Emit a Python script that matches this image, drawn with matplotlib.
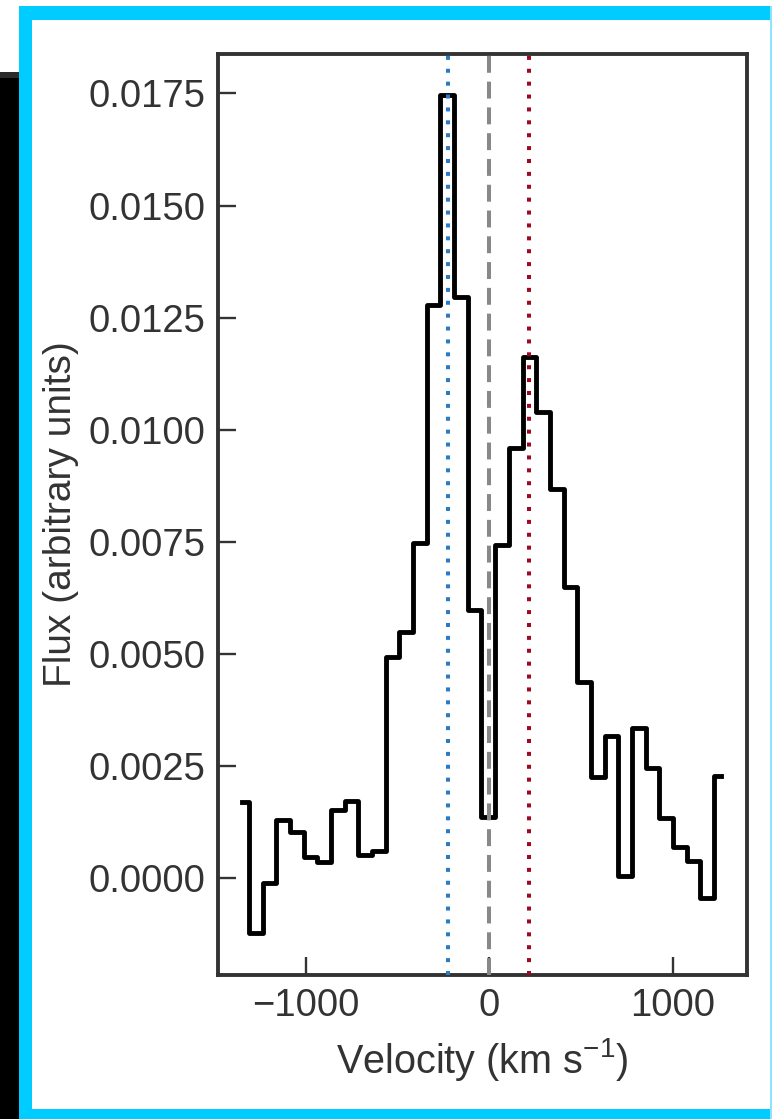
import numpy as np
import matplotlib
matplotlib.use('Agg')
import matplotlib.pyplot as plt
from matplotlib.patches import Rectangle

plt.rcParams['font.family'] = ['Liberation Sans', 'DejaVu Sans']
plt.rcParams['mathtext.fontset'] = 'custom'
plt.rcParams['mathtext.rm'] = 'Liberation Sans'
plt.rcParams['mathtext.it'] = 'Liberation Sans:italic'

# channel centres (km/s) and flux per channel
velocity = np.array([-1351, -1276, -1202, -1127, -1052, -978, -903, -828, -753, -679,
                     -604, -529, -455, -380, -305, -231, -156, -81, -6, 68,
                     143, 218, 292, 367, 442, 517, 591, 666, 741, 815,
                     890, 965, 1039, 1114, 1189, 1263])
flux = np.array([0.00170, -0.00123, -0.00010, 0.00130, 0.00103, 0.00047, 0.00036, 0.00152, 0.00172, 0.00051,
                 0.00060, 0.00493, 0.00550, 0.00748, 0.01279, 0.01746, 0.01297, 0.00598, 0.00137, 0.00743,
                 0.00960, 0.01163, 0.01040, 0.00868, 0.00650, 0.00438, 0.00226, 0.00317, 0.00004, 0.00335,
                 0.00245, 0.00134, 0.00069, 0.00038, -0.00045, 0.00228])

v_blue = -229
v_sys = 0
v_red = 218

yticks = [0.0, 0.0025, 0.005, 0.0075, 0.01, 0.0125, 0.015, 0.0175]
xticks = [-1000, 0, 1000]

W, H = 772, 1119
fig = plt.figure(figsize=(W / 100, H / 100), dpi=100)
fig.patch.set_facecolor('white')

# dark strip on the left and the cyan frame
fig.patches.append(Rectangle((0, 0), 19 / W, 1 - 72 / H, transform=fig.transFigure,
                             facecolor='black', edgecolor='none', zorder=0))
fig.patches.append(Rectangle((0, 1 - 78 / H), 19 / W, 6 / H, transform=fig.transFigure,
                             facecolor='#2a2a2a', edgecolor='none', zorder=0))
cyan = '#00ccff'
fig.patches.append(Rectangle((19 / W, 1 - 20 / H), 1 - 19 / W, 14 / H, transform=fig.transFigure,
                             facecolor=cyan, edgecolor='none', zorder=0))
fig.patches.append(Rectangle((19 / W, 0), 13 / W, 1 - 6 / H, transform=fig.transFigure,
                             facecolor=cyan, edgecolor='none', zorder=0))
fig.patches.append(Rectangle((19 / W, 0), 1 - 19 / W, 10 / H, transform=fig.transFigure,
                             facecolor=cyan, edgecolor='none', zorder=0))
fig.patches.append(Rectangle((1 - 2 / W, 0), 2 / W, 1 - 6 / H, transform=fig.transFigure,
                             facecolor='#8fe2ff', edgecolor='none', zorder=0))

ax = fig.add_axes([218 / W, 1 - 975 / H, 529 / W, 921 / H])

ax.axvline(v_blue, color='#2b7bc4', lw=2.9, linestyle=(0, (1, 2.2)), dash_capstyle='butt', zorder=3)
ax.axvline(v_sys, color='#888888', lw=2.9, linestyle=(0, (4.2, 2.2)), dash_capstyle='butt', zorder=3)
ax.axvline(v_red, color='#9b0a1e', lw=2.9, linestyle=(0, (1, 2.2)), dash_capstyle='butt', zorder=3)
ax.plot(velocity, flux, drawstyle='steps-mid', color='black', lw=3.5, zorder=2)

ax.set_xlim(-1482, 1406)
ax.set_ylim(-0.00216, 0.01838)
ax.set_xticks(xticks)
ax.set_yticks(yticks)
ax.set_xticklabels(['\u22121000', '0', '1000'])
ax.set_yticklabels(['%.4f' % t for t in yticks])

for s in ax.spines.values():
    s.set_linewidth(2.8)
    s.set_color('#333333')
ax.tick_params(direction='in', length=13, width=1.7, color='#333333',
               labelsize=27.5, labelcolor='#333333', pad=9)

ax.set_xlabel('Velocity (km s$^{-1}$)', fontsize=28.5, color='#333333', labelpad=9)
ax.set_ylabel('Flux (arbitrary units)', fontsize=28, color='#333333', labelpad=7)

fig.savefig('out.png', dpi=100)
